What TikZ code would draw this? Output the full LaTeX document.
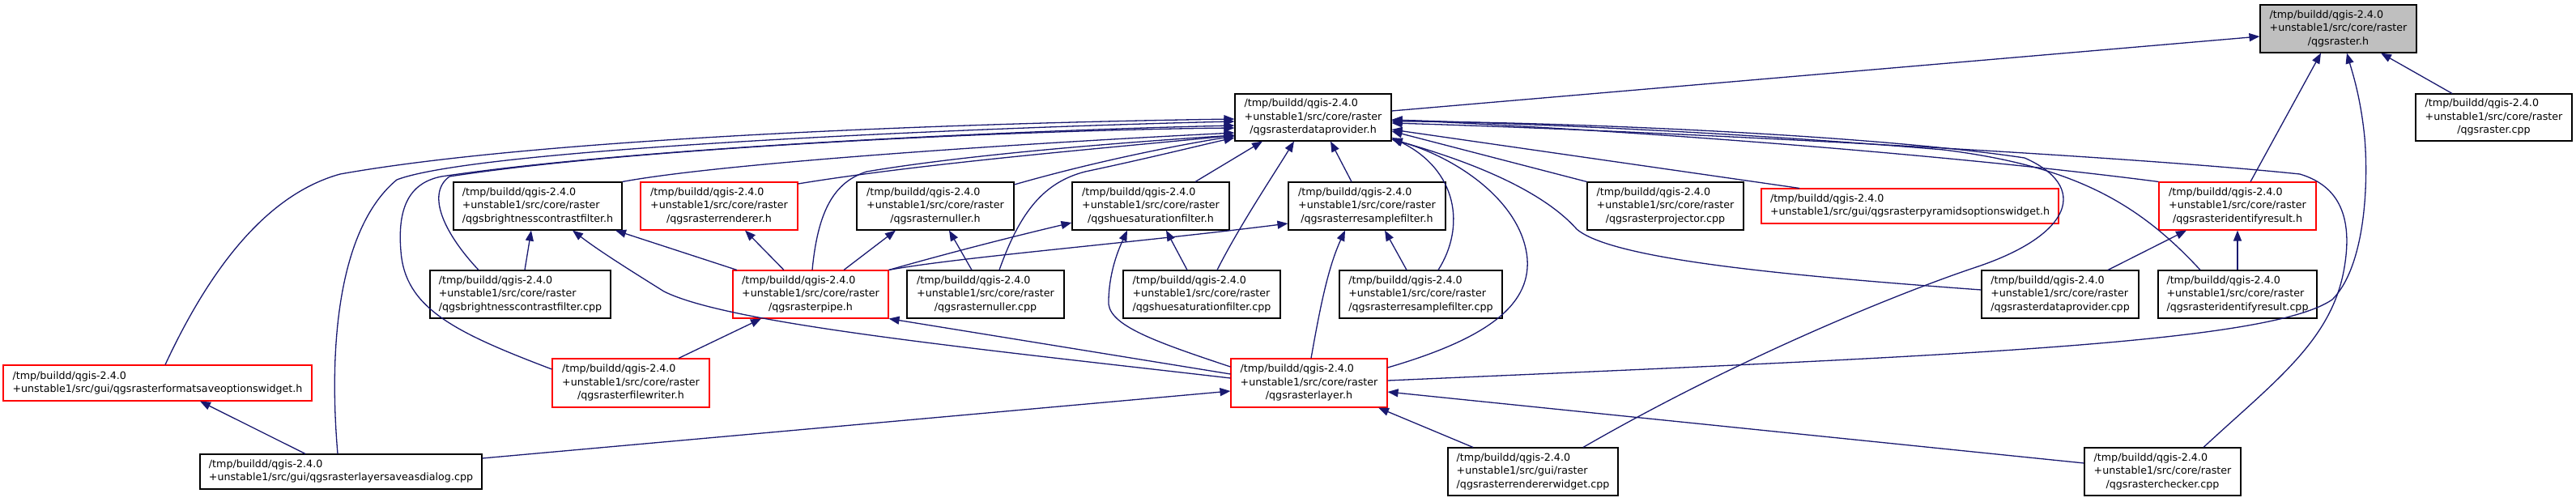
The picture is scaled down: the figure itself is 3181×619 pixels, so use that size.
\documentclass[tikz,border=0pt]{standalone}
\usepackage{fontspec}
\setmainfont{DejaVu Sans}
\usetikzlibrary{arrows.meta}
\definecolor{edgeblue}{HTML}{191970}
\definecolor{boxred}{HTML}{FF0000}
\definecolor{boxgray}{HTML}{BFBFBF}
\newcommand{\nfont}{\fontsize{12.67pt}{16.3pt}\selectfont}
\newcommand{\lblthree}[3]{\begin{tabular}{@{}l@{}}#1\\#2\\\multicolumn{1}{@{}c@{}}{#3}\end{tabular}}
\newcommand{\lbltwo}[2]{\begin{tabular}{@{}l@{}}#1\\#2\end{tabular}}
\newcommand{\corep}[1]{\lblthree{/tmp/buildd/qgis-2.4.0}{+unstable1/src/core/raster}{#1}}
\begin{document}
\begin{tikzpicture}[x=1pt,y=-1pt,
  fbox/.style={draw=black, line width=1.1pt, rectangle, inner sep=0pt, font=\nfont, fill=white},
  redbox/.style={fbox, draw=boxred},
  graybox/.style={fbox, fill=boxgray},
  sz/.style 2 args={minimum width=#1pt, minimum height=#2pt},
  edge/.style={draw=edgeblue, line width=1.3pt, -{Triangle[length=13pt,width=10pt]}}]
\useasboundingbox (0,0) rectangle (3181,619);
% rank 0/1
\node[graybox, sz={193}{59}] (rh) at (2887.5,35.5) {\corep{/qgsraster.h}};
\node[fbox, sz={193}{58}] (rcpp) at (3079.5,145) {\corep{/qgsraster.cpp}};
\node[fbox, sz={193}{58}] (dph) at (1621.5,145) {\corep{/qgsrasterdataprovider.h}};
% rank 2
\node[fbox, sz={208}{59}] (bch) at (664,254.5) {\corep{/qgsbrightnesscontrastfilter.h}};
\node[redbox, sz={194}{59}] (rendh) at (888,254.5) {\corep{/qgsrasterrenderer.h}};
\node[fbox, sz={194}{59}] (nulh) at (1155,254.5) {\corep{/qgsrasternuller.h}};
\node[fbox, sz={194}{59}] (hueh) at (1421,254.5) {\corep{/qgshuesaturationfilter.h}};
\node[fbox, sz={194}{59}] (resh) at (1688,254.5) {\corep{/qgsrasterresamplefilter.h}};
\node[fbox, sz={193}{59}] (projc) at (2056.5,254.5) {\corep{/qgsrasterprojector.cpp}};
\node[redbox, sz={367}{43}] (pyrh) at (2358.5,254.5) {\lbltwo{/tmp/buildd/qgis-2.4.0}{+unstable1/src/gui/qgsrasterpyramidsoptionswidget.h}};
\node[redbox, sz={194}{59}] (idrh) at (2763,254.5) {\corep{/qgsrasteridentifyresult.h}};
% rank 3
\node[fbox, sz={223}{59}] (bcc) at (642.5,363.5) {\corep{/qgsbrightnesscontrastfilter.cpp}};
\node[redbox, sz={192}{59}] (pipeh) at (1001,363.5) {\corep{/qgsrasterpipe.h}};
\node[fbox, sz={194}{59}] (nulc) at (1217,363.5) {\corep{/qgsrasternuller.cpp}};
\node[fbox, sz={194}{59}] (huec) at (1484,363.5) {\corep{/qgshuesaturationfilter.cpp}};
\node[fbox, sz={201}{59}] (resc) at (1754.5,363.5) {\corep{/qgsrasterresamplefilter.cpp}};
\node[fbox, sz={194}{59}] (dpc) at (2544,363.5) {\corep{/qgsrasterdataprovider.cpp}};
\node[fbox, sz={196}{59}] (idrc) at (2763,363.5) {\corep{/qgsrasteridentifyresult.cpp}};
% rank 4
\node[redbox, sz={381}{44}] (fmth) at (194.5,473) {\lbltwo{/tmp/buildd/qgis-2.4.0}{+unstable1/src/gui/qgsrasterformatsaveoptionswidget.h}};
\node[redbox, sz={194}{60}] (fwh) at (779,473) {\corep{/qgsrasterfilewriter.h}};
\node[redbox, sz={193}{60}] (layh) at (1616.5,473) {\corep{/qgsrasterlayer.h}};
% rank 5
\node[fbox, sz={348}{43}] (dlgc) at (421,582.5) {\lbltwo{/tmp/buildd/qgis-2.4.0}{+unstable1/src/gui/qgsrasterlayersaveasdialog.cpp}};
\node[fbox, sz={210}{59}] (rwc) at (1893,582.5) {\lblthree{/tmp/buildd/qgis-2.4.0}{+unstable1/src/gui/raster}{/qgsrasterrendererwidget.cpp}};
\node[fbox, sz={193}{59}] (chkc) at (2670.5,582.5) {\corep{/qgsrasterchecker.cpp}};

% edges into qgsraster.h
\draw[edge] (dph.east |- 0,137) -- (rh.west |- 0,45);
\draw[edge] (idrh.north -| 2779,0) -- (rh.south -| 2866,0);
\draw[edge] (rcpp.north -| 3028,0) -- (rh.south -| 2940,0);
\draw[edge] (layh.east |- 0,470) .. controls (2400,440) and (2800,425) .. (2880,370) .. controls (2920,330) and (2925,230) .. (2920,170) .. controls (2915,120) and (2905,90) .. (rh.south -| 2898,0);

% edges into qgsrasterdataprovider.h
\draw[edge] (chkc.north -| 2721,0) .. controls (2810,470) and (2880,420) .. (2895,330) .. controls (2905,270) and (2890,230) .. (2840,215) .. controls (2600,190) and (2000,160) .. (dph.east |- 0,152);
\draw[edge] (idrc.north -| 2717,0) .. controls (2640,250) and (2560,205) .. (2400,185) .. controls (2100,160) and (1850,152) .. (dph.east |- 0,148);
\draw[edge] (dpc.west |- 0,358) .. controls (2200,340) and (1990,320) .. (1947,283) .. controls (1900,230) and (1800,195) .. (dph.east |- 0,172);
\draw[edge] (rwc.north -| 1955,0) .. controls (2150,440) and (2350,360) .. (2440,330) .. controls (2560,290) and (2580,230) .. (2500,195) .. controls (2300,165) and (1900,150) .. (dph.east |- 0,150);
\draw[edge] (dlgc.north -| 417,0) .. controls (405,420) and (420,280) .. (490,222) .. controls (600,180) and (1300,155) .. (dph.west |- 0,150);
\draw[edge] (fmth.north -| 204,0) .. controls (260,330) and (330,240) .. (420,215) .. controls (700,165) and (1300,150) .. (dph.west |- 0,147);
\draw[edge] (fwh.west |- 0,456) .. controls (560,410) and (500,380) .. (495,310) .. controls (490,250) and (510,225) .. (545,218) .. controls (800,180) and (1300,160) .. (dph.west |- 0,155);
\draw[edge] (bcc.north -| 591,0) .. controls (550,290) and (525,240) .. (555,218) .. controls (800,180) and (1300,160) .. (dph.west |- 0,158);
\draw[edge] (bch.north east) .. controls (900,200) and (1300,175) .. (dph.west |- 0,164);
\draw[edge] (rendh.east |- 0,227) .. controls (1150,200) and (1400,180) .. (dph.west |- 0,167);
\draw[edge] (pipeh.north -| 1003,0) .. controls (1010,260) and (1030,225) .. (1070,212) .. controls (1200,190) and (1400,175) .. (dph.west |- 0,167);
\draw[edge] (nulh.east |- 0,228) .. controls (1350,200) and (1450,180) .. (dph.west |- 0,168);
\draw[edge] (nulc.north -| 1234,0) .. controls (1260,260) and (1290,225) .. (1340,212) .. controls (1420,195) and (1480,180) .. (dph.west |- 0,170);
\draw[edge] (hueh.north -| 1476,0) -- (dph.south -| 1559,0);
\draw[edge] (huec.north -| 1503,0) .. controls (1530,280) and (1570,220) .. (dph.south -| 1598,0);
\draw[edge] (resh.north -| 1669,0) -- (dph.south -| 1643,0);
\draw[edge] (resc.north -| 1776,0) .. controls (1810,280) and (1800,210) .. (dph.east |- 0,170);
\draw[edge] (layh.east |- 0,454) .. controls (1830,420) and (1890,380) .. (1886,320) .. controls (1880,250) and (1800,195) .. (dph.east |- 0,172);
\draw[edge] (projc.north west) -- (dph.east |- 0,162);
\draw[edge] (pyrh.north -| 2222,0) -- (dph.east |- 0,160);
\draw[edge] (idrh.north west) .. controls (2400,190) and (2000,160) .. (dph.east |- 0,148);

% other edges
\draw[edge] (dpc.north -| 2603,0) -- (idrh.south -| 2700,0);
\draw[edge] (idrc.north -| 2763,0) -- (idrh.south -| 2763,0);
\draw[edge] (chkc.west |- 0,572) -- (layh.east |- 0,484);
\draw[edge] (rwc.north -| 1819,0) -- (layh.south -| 1702,0);
\draw[edge] (dlgc.east |- 0,566) -- (layh.west |- 0,483);
\draw[edge] (dlgc.north -| 377,0) -- (fmth.south -| 247,0);
\draw[edge] (pipeh.north -| 968,0) -- (rendh.south -| 920,0);
\draw[edge] (pipeh.north -| 1042,0) -- (nulh.south -| 1106,0);
\draw[edge] (pipeh.north east) .. controls (1180,310) and (1260,290) .. (hueh.west |- 0,275);
\draw[edge] (pipeh.north east) .. controls (1180,318) and (1400,300) .. (resh.west |- 0,276);
\draw[edge] (pipeh.north -| 910,0) -- (bch.south -| 760,0);
\draw[edge] (layh.west |- 0,467) .. controls (1200,430) and (900,400) .. (820,360) .. controls (780,335) and (740,310) .. (bch.south -| 707,0);
\draw[edge] (layh.west |- 0,462) -- (pipeh.south east);
\draw[edge] (layh.west |- 0,453) .. controls (1420,420) and (1365,400) .. (1369,370) .. controls (1370,330) and (1385,300) .. (hueh.south -| 1392,0);
\draw[edge] (layh.north -| 1619,0) .. controls (1630,380) and (1640,330) .. (resh.south -| 1661,0);
\draw[edge] (fwh.north -| 838,0) -- (pipeh.south -| 940,0);
\draw[edge] (bcc.north -| 648,0) -- (bch.south -| 656,0);
\draw[edge] (nulc.north -| 1200,0) -- (nulh.south -| 1172,0);
\draw[edge] (huec.north -| 1466,0) -- (hueh.south -| 1440,0);
\draw[edge] (resc.north -| 1737,0) -- (resh.south -| 1710,0);
\end{tikzpicture}
\end{document}
